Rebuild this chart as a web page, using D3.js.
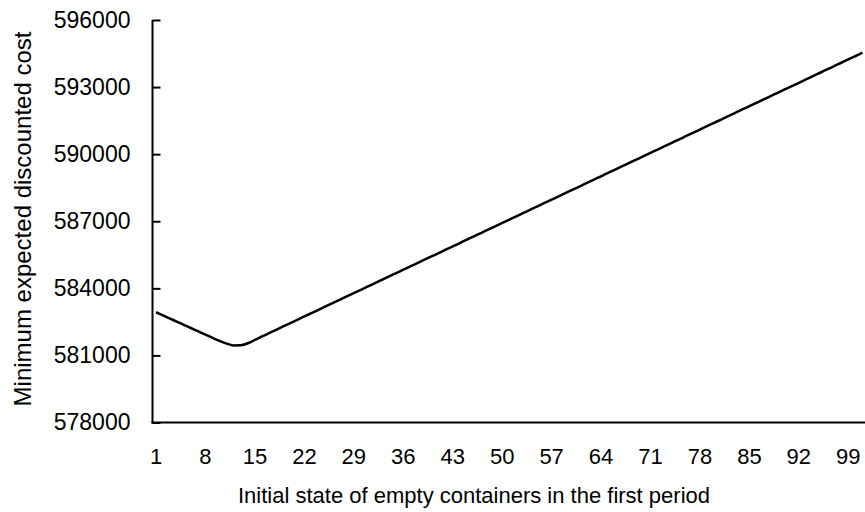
<!DOCTYPE html>
<html><head><meta charset="utf-8">
<script src="https://cdn.jsdelivr.net/npm/d3@7"></script>
<style>body{margin:0;background:#fff}svg text{font-family:"Liberation Sans",Arial,sans-serif;fill:#000}</style>
</head><body><div id="chart"></div>
<script>
const categories = d3.range(1, 102);
const costValues = [
582930,582787,582644,582501,582358,582215,582072,581929,581786,581650,
581530,581445,581450,581545,581690,581846,581995,582144,582294,582443,
582592,582742,582891,583040,583190,583339,583488,583637,583787,583936,
584085,584235,584384,584533,584683,584832,584981,585130,585280,585429,
585578,585728,585877,586026,586176,586325,586474,586623,586773,586922,
587071,587221,587370,587519,587669,587818,587967,588116,588266,588415,
588564,588714,588863,589012,589162,589311,589460,589609,589759,589908,
590057,590207,590356,590505,590655,590804,590953,591102,591252,591401,
591550,591700,591849,591998,592148,592297,592446,592595,592745,592894,
593043,593193,593342,593491,593641,593790,593939,594088,594238,594387,
594536];
const xTickLabels = [1,8,15,22,29,36,43,50,57,64,71,78,85,92,99];
const yTicks = [578000,581000,584000,587000,590000,593000,596000];
const xTitle = "Initial state of empty containers in the first period";
const yTitle = "Minimum expected discounted cost";

const W = 865, H = 512;
const svg = d3.select("#chart").append("svg").attr("width", W).attr("height", H);
const left = 152.5, step = 7.064;
const x = d3.scaleBand().domain(categories).range([left, left + categories.length * step]);
const y = d3.scaleLinear().domain([578000, 596000]).range([422.5, 20]);

// y axis
const yAxis = d3.axisLeft(y).tickValues(yTicks).tickSize(-8).tickPadding(22).tickFormat(d3.format("d"));
const gy = svg.append("g").attr("transform", `translate(${left},0)`).call(yAxis);
gy.select(".domain").remove();
gy.append("line").attr("x1", 0).attr("x2", 0).attr("y1", y(596000)).attr("y2", y(578000) + 1).attr("stroke", "#000").attr("stroke-width", 2);
gy.selectAll(".tick line").attr("stroke", "#000").attr("stroke-width", 2);
gy.selectAll(".tick text").attr("font-size", 23).attr("font-family", "Liberation Sans, Arial, sans-serif").attr("fill", "#000");

// x axis
const xAxis = d3.axisBottom(x).tickValues(xTickLabels).tickSize(0).tickPadding(26);
const gx = svg.append("g").attr("transform", `translate(0,${y(578000)})`).call(xAxis);
gx.select(".domain").remove();
gx.append("line").attr("x1", left - 1).attr("x2", W).attr("y1", 0).attr("y2", 0).attr("stroke", "#000").attr("stroke-width", 2);
gx.selectAll(".tick text").attr("font-size", 22).attr("font-family", "Liberation Sans, Arial, sans-serif").attr("fill", "#000");

// line
const line = d3.line()
  .x((d, i) => x(categories[i]) + x.bandwidth() / 2)
  .y(d => y(d))
  .curve(d3.curveMonotoneX);
svg.append("path").datum(costValues).attr("d", line)
  .attr("fill", "none").attr("stroke", "#000").attr("stroke-width", 2.5).attr("stroke-linejoin", "round");

// titles
svg.append("text").attr("x", 474).attr("y", 503).attr("text-anchor", "middle").attr("font-size", 22).text(xTitle);
svg.append("text").attr("transform", "translate(31,219) rotate(-90)").attr("text-anchor", "middle").attr("font-size", 24).text(yTitle);
</script></body></html>
